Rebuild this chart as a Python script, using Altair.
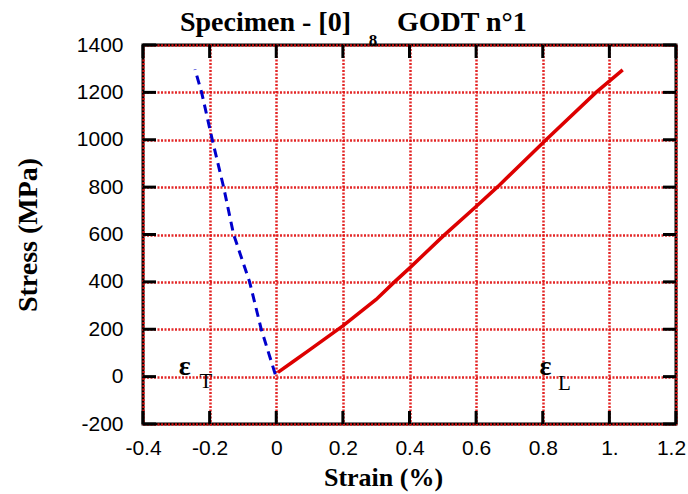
import altair as alt
import pandas as pd

# ---- data ----
long_strain = [0.005, 0.05, 0.10, 0.20, 0.30, 0.355, 0.40, 0.50, 0.60, 0.665, 0.81, 0.96, 1.04]
long_stress = [18, 63, 113, 214, 326, 400, 458, 592, 718, 802, 1000, 1200, 1295]
trans_strain = [-0.003, -0.045, -0.08, -0.128, -0.158, -0.192, -0.224, -0.244]
trans_stress = [10, 200, 400, 600, 800, 1000, 1200, 1297]

x_ticks = [-0.4, -0.2, 0.0, 0.2, 0.4, 0.6, 0.8, 1.0, 1.2]
x_tick_labels = ["-0.4", "-0.2", "0", "0.2", "0.4", "0.6", "0.8", "1.", "1.2"]
y_ticks = [-200, 0, 200, 400, 600, 800, 1000, 1200, 1400]
y_tick_labels = ["-200", "0", "200", "400", "600", "800", "1000", "1200", "1400"]

title_left = "Specimen - [0]"
title_sub = "8"
title_right = "GODT n°1"
x_title = "Strain (%)"
y_title = "Stress (MPa)"

ann_main = ["ε", "ε"]
ann_main_x = [-0.275, 0.808]
ann_main_y = [7, 7]
ann_sub = ["T", "L"]
ann_sub_x = [-0.211, 0.865]
ann_sub_y = [-46, -58]

W, H = 533, 379
SERIF = "Liberation Serif"
SANS = "Liberation Sans"

xs = alt.Scale(domain=[-0.4, 1.2], nice=False, zero=False)
ys = alt.Scale(domain=[-200, 1400], nice=False, zero=False)

xlab_expr = "[" + ",".join("'%s'" % s for s in x_tick_labels) + "][round((datum.value+0.4)*5)]"
ylab_expr = "[" + ",".join("'%s'" % s for s in y_tick_labels) + "][round((datum.value+200)/200)]"

grid_style = dict(grid=True, gridColor="#e01010", gridDash=[2, 1.5], gridWidth=2.5, gridOpacity=0.9)

x_axis = alt.Axis(values=x_ticks, labelExpr=xlab_expr, title=x_title, ticks=False, tickSize=0,
                  domain=False, **grid_style,
                  labelFont=SANS, labelFontSize=21, labelColor="black",
                  labelPadding=13, labelFlush=False,
                  labelOffset={"condition": {"test": "datum.value > 1.1", "value": -5}, "value": 0},
                  titleFont=SERIF, titleFontSize=26, titleFontWeight="bold", titleColor="black",
                  titleX=240, titleY=61, titleBaseline="alphabetic", titleAnchor="start", titleAlign="center")
y_axis = alt.Axis(values=y_ticks, labelExpr=ylab_expr, title=y_title, ticks=False, tickSize=0,
                  domain=False, **grid_style,
                  labelFont=SANS, labelFontSize=21, labelColor="black",
                  labelPadding=20, labelFlush=False, labelBaseline="middle",
                  titleFont=SERIF, titleFontSize=28, titleFontWeight="bold", titleColor="black",
                  titleX=-115, titleY=H / 2, titleAngle=270, titleBaseline="middle", titleAlign="center",
                  titleAnchor="start")

def X(field="x"):
    return alt.X(field + ":Q", scale=xs, axis=x_axis)

def Y(field="y"):
    return alt.Y(field + ":Q", scale=ys, axis=y_axis)

df_long = pd.DataFrame({"x": long_strain, "y": long_stress})
df_trans = pd.DataFrame({"x": trans_strain, "y": trans_stress})

long_line = alt.Chart(df_long).mark_line(color="#dd0000", strokeWidth=3.5).encode(
    x=X(), y=Y(), order=alt.Order("x:Q"))
trans_line = alt.Chart(df_trans).mark_line(color="#0000cc", strokeWidth=3, strokeDash=[9, 6]).encode(
    x=X(), y=Y(), order=alt.Order("y:Q"))

df_xt = pd.DataFrame({"x": x_ticks})
df_yt = pd.DataFrame({"y": y_ticks})
tick_style = dict(color="black", strokeWidth=3)
bottom_ticks = alt.Chart(df_xt).mark_rule(**tick_style).encode(x=X(), y=alt.value(H), y2=alt.value(H - 13))
top_ticks = alt.Chart(df_xt).mark_rule(**tick_style).encode(x=X(), y=alt.value(0), y2=alt.value(13))
left_ticks = alt.Chart(df_yt).mark_rule(**tick_style).encode(y=Y(), x=alt.value(0), x2=alt.value(13))
right_ticks = alt.Chart(df_yt).mark_rule(**tick_style).encode(y=Y(), x=alt.value(W), x2=alt.value(W - 13))

df_ann = pd.DataFrame({"x": ann_main_x, "y": ann_main_y, "t": ann_main})
df_sub = pd.DataFrame({"x": ann_sub_x, "y": ann_sub_y, "t": ann_sub})
ann = alt.Chart(df_ann).mark_text(font=SERIF, fontSize=28, fontWeight="bold", color="black",
                                  align="center", baseline="alphabetic").encode(x=X(), y=Y(), text="t:N")
sub = alt.Chart(df_sub).mark_text(font=SERIF, fontSize=21, color="black",
                                  align="center", baseline="alphabetic").encode(x=X(), y=Y(), text="t:N")

df_one = pd.DataFrame({"k": [0]})
t1 = alt.Chart(df_one).mark_text(font=SERIF, fontSize=28, fontWeight="bold", color="black",
                                 align="right", baseline="alphabetic").encode(
    x=alt.value(208), y=alt.value(-14), text=alt.value(title_left))
t2 = alt.Chart(df_one).mark_text(font=SERIF, fontSize=17, fontWeight="bold", color="black",
                                 align="center", baseline="alphabetic").encode(
    x=alt.value(230), y=alt.value(1), text=alt.value(title_sub))
t3 = alt.Chart(df_one).mark_text(font=SERIF, fontSize=28, fontWeight="bold", color="black",
                                 align="left", baseline="alphabetic").encode(
    x=alt.value(254), y=alt.value(-14), text=alt.value(title_right))

chart = alt.layer(long_line, trans_line, bottom_ticks, top_ticks, left_ticks, right_ticks,
                  ann, sub, t1, t2, t3).properties(
    width=W, height=H,
    autosize=alt.AutoSizeParams(type="none"),
    padding={"left": 143, "top": 45, "right": 12, "bottom": 70},
    background="white",
).configure_view(stroke="black", strokeWidth=3)

chart.save("out.html", embed_options={"renderer": "svg", "actions": False})
